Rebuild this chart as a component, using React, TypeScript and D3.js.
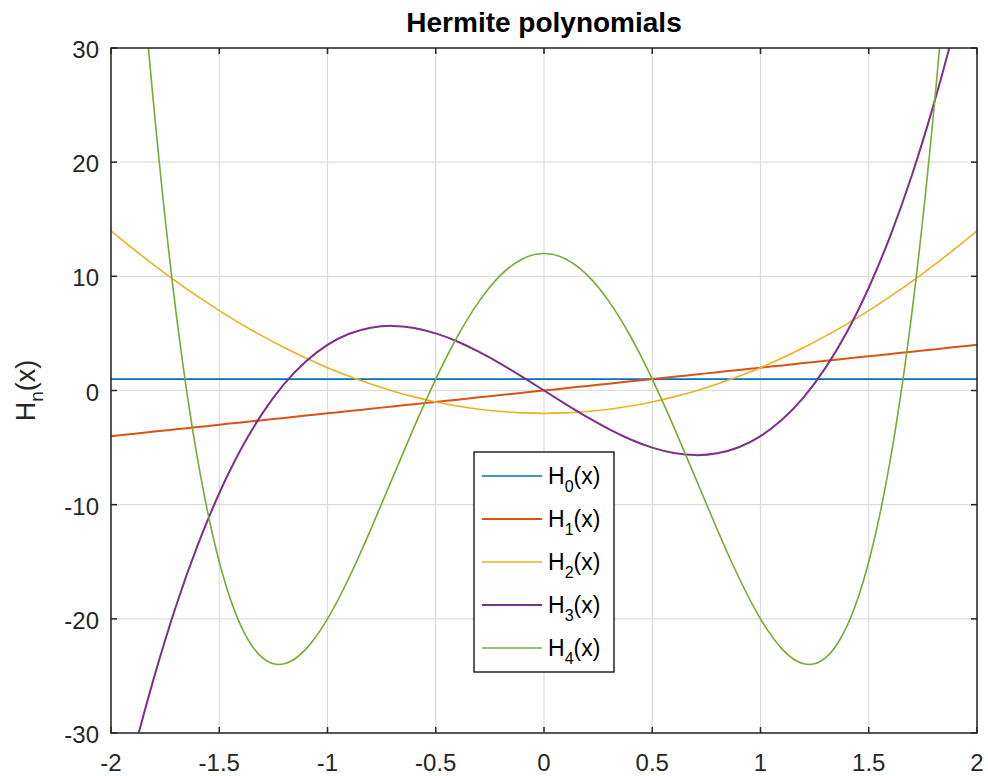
import React from "react";
import * as d3 from "d3";

// Sample x positions and the values
const xs = [-2, -1.9, -1.8, -1.7, -1.6, -1.5, -1.4, -1.3, -1.2, -1.1, -1, -0.9, -0.8, -0.7, -0.6, -0.5, -0.4, -0.3, -0.2, -0.1, 0, 0.1, 0.2, 0.3, 0.4, 0.5, 0.6, 0.7, 0.8, 0.9, 1, 1.1, 1.2, 1.3, 1.4, 1.5, 1.6, 1.7, 1.8, 1.9, 2];

const h0 = [1, 1, 1, 1, 1, 1, 1, 1, 1, 1, 1, 1, 1, 1, 1, 1, 1, 1, 1, 1, 1, 1, 1, 1, 1, 1, 1, 1, 1, 1, 1, 1, 1, 1, 1, 1, 1, 1, 1, 1, 1];
const h1 = [-4, -3.8, -3.6, -3.4, -3.2, -3, -2.8, -2.6, -2.4, -2.2, -2, -1.8, -1.6, -1.4, -1.2, -1, -0.8, -0.6, -0.4, -0.2, 0, 0.2, 0.4, 0.6, 0.8, 1, 1.2, 1.4, 1.6, 1.8, 2, 2.2, 2.4, 2.6, 2.8, 3, 3.2, 3.4, 3.6, 3.8, 4];
const h2 = [14, 12.44, 10.96, 9.56, 8.24, 7, 5.84, 4.76, 3.76, 2.84, 2, 1.24, 0.56, -0.04, -0.56, -1, -1.36, -1.64, -1.84, -1.96, -2, -1.96, -1.84, -1.64, -1.36, -1, -0.56, -0.04, 0.56, 1.24, 2, 2.84, 3.76, 4.76, 5.84, 7, 8.24, 9.56, 10.96, 12.44, 14];
const h3 = [-40, -32.07, -25.06, -18.9, -13.57, -9, -5.15, -1.98, 0.58, 2.55, 4, 4.97, 5.5, 5.66, 5.47, 5, 4.29, 3.38, 2.34, 1.19, 0, -1.19, -2.34, -3.38, -4.29, -5, -5.47, -5.66, -5.5, -4.97, -4, -2.55, -0.58, 1.98, 5.15, 9, 13.57, 18.9, 25.06, 32.07, 40];
const h4 = [76, 47.23, 24.44, 6.91, -6.02, -15, -20.61, -23.42, -23.94, -22.65, -20, -16.38, -12.17, -7.68, -3.21, 1, 4.73, 7.81, 10.11, 11.52, 12, 11.52, 10.11, 7.81, 4.73, 1, -3.21, -7.68, -12.17, -16.38, -20, -22.65, -23.94, -23.42, -20.61, -15, -6.02, 6.91, 24.44, 47.23, 76];

const seriesNames = ["0", "1", "2", "3", "4"];
const seriesValues = [h0, h1, h2, h3, h4];
const seriesColors = ["#0072BD", "#D95319", "#EDB120", "#7E2F8E", "#77AC30"];
const seriesWidths = [1.6, 2, 1.6, 2, 1.6];

const xTicks = [-2, -1.5, -1, -0.5, 0, 0.5, 1, 1.5, 2];
const yTicks = [-30, -20, -10, 0, 10, 20, 30];

const W = 988;
const H = 776;
const L = 111, R = 977, T = 48, B = 733;
const FONT = "'Liberation Sans', Arial, Helvetica, sans-serif";
const AX = "#262626";

export default function App() {
  const x = d3.scaleLinear().domain([-2, 2]).range([L, R]);
  const y = d3.scaleLinear().domain([-30, 30]).range([B, T]);
  const line = d3
    .line<number>()
    .x((_, i) => x(xs[i]))
    .y((d) => y(d))
    .curve(d3.curveNatural);

  const legX = 474, legY = 452, legW = 140, legH = 220;
  const legRow = (i: number) => 476 + i * 43;

  return (
    <svg width={W} height={H} style={{ position: "absolute", left: 0, top: 0, background: "#fff" }}>
      <defs>
        <clipPath id="plotclip">
          <rect x={L} y={T} width={R - L} height={B - T} />
        </clipPath>
      </defs>
      <rect x={0} y={0} width={W} height={H} fill="#fff" />
      {/* grid */}
      {xTicks.map((t) => (
        <line key={"gx" + t} x1={x(t)} x2={x(t)} y1={T} y2={B} stroke="#dcdcdc" strokeWidth={1.2} />
      ))}
      {yTicks.map((t) => (
        <line key={"gy" + t} x1={L} x2={R} y1={y(t)} y2={y(t)} stroke="#dcdcdc" strokeWidth={1.2} />
      ))}
      {/* curves */}
      <g clipPath="url(#plotclip)">
        {seriesValues.map((vals, i) => (
          <path key={i} d={line(vals) || ""} fill="none" stroke={seriesColors[i]} strokeWidth={seriesWidths[i]} />
        ))}
      </g>
      {/* axes box */}
      <rect x={L} y={T} width={R - L} height={B - T} fill="none" stroke={AX} strokeWidth={1.5} />
      {/* ticks */}
      {xTicks.map((t) => (
        <g key={"tx" + t}>
          <line x1={x(t)} x2={x(t)} y1={B} y2={B - 6} stroke={AX} strokeWidth={1.5} />
          <line x1={x(t)} x2={x(t)} y1={T} y2={T + 6} stroke={AX} strokeWidth={1.5} />
          <text x={x(t)} y={B + 38} textAnchor="middle" fontFamily={FONT} fontSize={24} fill={AX}>
            {String(t)}
          </text>
        </g>
      ))}
      {yTicks.map((t) => (
        <g key={"ty" + t}>
          <line x1={L} x2={L + 6} y1={y(t)} y2={y(t)} stroke={AX} strokeWidth={1.5} />
          <line x1={R} x2={R - 6} y1={y(t)} y2={y(t)} stroke={AX} strokeWidth={1.5} />
          <text x={L - 12} y={y(t) + 10} textAnchor="end" fontFamily={FONT} fontSize={24} fill={AX}>
            {String(t)}
          </text>
        </g>
      ))}
      {/* title */}
      <text x={(L + R) / 2} y={32} textAnchor="middle" fontFamily={FONT} fontSize={28} fontWeight="bold" fill="#000">
        Hermite polynomials
      </text>
      {/* y label */}
      <text transform={`translate(35,${(T + B) / 2}) rotate(-90)`} textAnchor="middle" fontFamily={FONT} fontSize={27} fill={AX}>
        H<tspan dy={8} fontSize={19}>n</tspan><tspan dy={-8}>(x)</tspan>
      </text>
      {/* legend */}
      <rect x={legX} y={legY} width={legW} height={legH} fill="#fff" stroke={AX} strokeWidth={1.5} />
      {seriesNames.map((n, i) => (
        <g key={"lg" + n}>
          <line x1={482} x2={542} y1={legRow(i)} y2={legRow(i)} stroke={seriesColors[i]} strokeWidth={seriesWidths[i]} />
          <text x={548} y={legRow(i) + 8} fontFamily={FONT} fontSize={23} fill="#000">
            H<tspan dy={8} fontSize={16}>{n}</tspan><tspan dy={-8}>(x)</tspan>
          </text>
        </g>
      ))}
    </svg>
  );
}
